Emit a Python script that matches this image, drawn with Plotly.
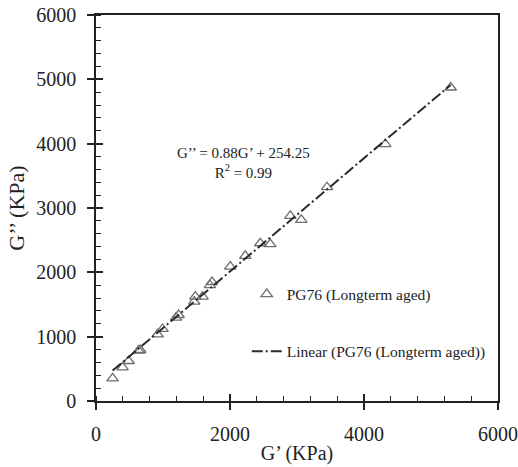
import plotly.graph_objects as go

# Data: G' (KPa) vs G'' (KPa)
g_prime = [248, 397, 487, 636, 661, 920, 994, 1194, 1233, 1467, 1482, 1591,
           1700, 1731, 2004, 2228, 2452, 2601, 2900, 3064, 3448, 4318, 5294]
g_double = [353, 524, 622, 782, 793, 1037, 1120, 1296, 1337, 1545, 1622, 1622,
            1800, 1850, 2089, 2255, 2452, 2440, 2877, 2815, 3323, 3992, 4873]

slope = 0.88
intercept = 254.25
fit_x = [min(g_prime), max(g_prime)]
fit_y = [slope * v + intercept for v in fit_x]

x_range = [0, 6000]
y_range = [0, 6000]

FONT = "Liberation Serif"
AX = "#222222"

fig = go.Figure()
fig.add_trace(go.Scatter(
    x=g_prime, y=g_double, mode="markers", name="PG76 (Longterm aged)",
    marker=dict(symbol="triangle-up-open", size=10, color="#6e6e6e",
                line=dict(width=1.3, color="#6e6e6e")),
    legendgroup="a"))
fig.add_trace(go.Scatter(
    x=fit_x, y=fit_y, mode="lines", name="Linear (PG76 (Longterm aged))",
    line=dict(color="#2a2a2a", width=2, dash="11px,3px,2px,3px"),
    legendgroup="b"))

# overlay axes for inward half of major ticks
fig.add_trace(go.Scatter(x=[None], y=[None], xaxis="x2", yaxis="y2",
                         showlegend=False, hoverinfo="skip"))

common = dict(showgrid=False, zeroline=False, showline=True, linecolor=AX,
              linewidth=1.5, ticks="outside", ticklen=7, tickwidth=1.5,
              tickcolor=AX, mirror=True, automargin=False,
              ticklabelstandoff=7,
              tickfont=dict(family=FONT, size=20, color="#222"))

fig.update_layout(
    width=518, height=467,
    margin=dict(l=96, r=20, t=15, b=66),
    paper_bgcolor="white", plot_bgcolor="white",
    font=dict(family=FONT, color="#222"),
    xaxis=dict(range=x_range, dtick=2000, **common,
               minor=dict(dtick=400, ticks="inside", ticklen=5, tickwidth=1.2, tickcolor=AX),
               title=dict(text="G’ (KPa)", font=dict(family=FONT, size=20), standoff=2)),
    yaxis=dict(range=y_range, dtick=1000, **common,
               minor=dict(dtick=200, ticks="inside", ticklen=5, tickwidth=1.2, tickcolor=AX),
               title=dict(text="G’’ (KPa)", font=dict(family=FONT, size=22), standoff=6)),
    xaxis2=dict(range=x_range, dtick=2000, overlaying="x", side="bottom",
                showticklabels=False, showgrid=False, zeroline=False,
                ticks="inside", ticklen=7, tickwidth=1.5, tickcolor=AX, showline=False),
    yaxis2=dict(range=y_range, dtick=1000, overlaying="y", side="left",
                showticklabels=False, showgrid=False, zeroline=False,
                ticks="inside", ticklen=7, tickwidth=1.5, tickcolor=AX, showline=False),
    legend=dict(x=0.375, y=0.32, xanchor="left", yanchor="top",
                bgcolor="rgba(0,0,0,0)", tracegroupgap=34,
                font=dict(family=FONT, size=15.5, color="#222")),
    showlegend=True,
)

fig.add_annotation(x=2200, y=3700, xref="x", yref="y",
                   text="G’’ = 0.88G’ + 254.25<br>R<sup>2</sup> = 0.99",
                   showarrow=False, align="center",
                   font=dict(family=FONT, size=15, color="#222"))

fig.write_html("out.html")
